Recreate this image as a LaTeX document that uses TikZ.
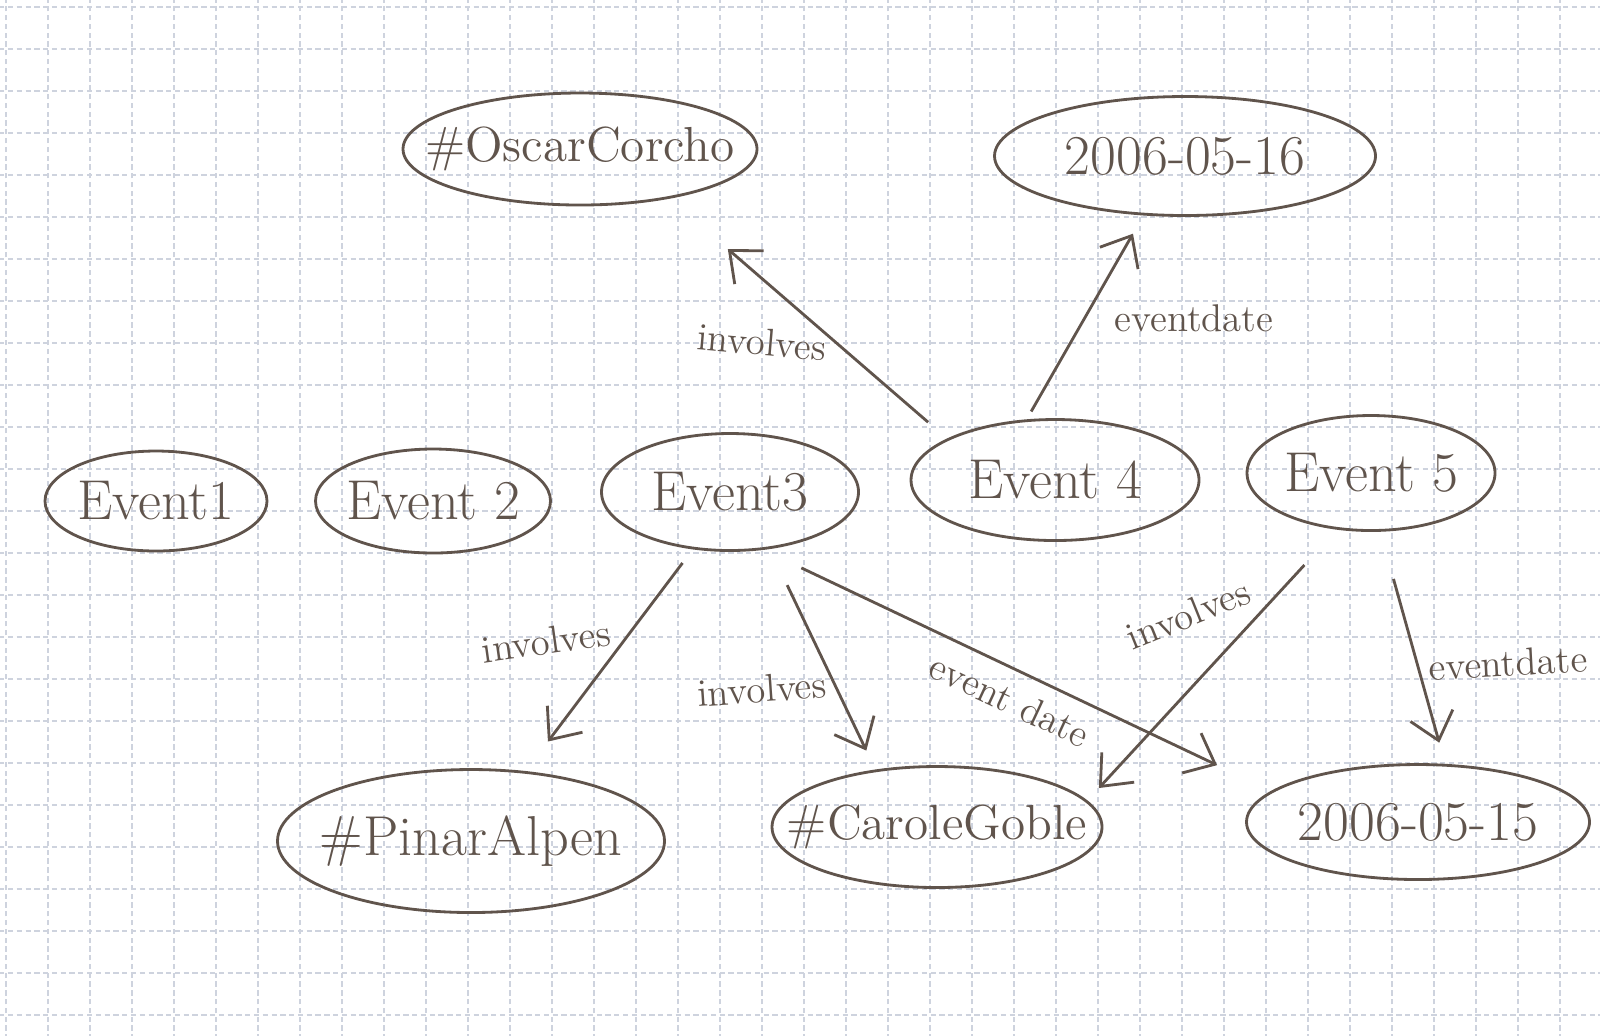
\documentclass[tikz,border=0pt]{standalone}
\usepackage{tikz}
\usetikzlibrary{shapes.geometric,arrows.meta}

\definecolor{pencil}{RGB}{96,84,76}
\definecolor{paperline}{RGB}{206,211,222}
\newcommand{\hw}[1]{\makebox[0pt]{#1}}

\begin{document}
\begin{tikzpicture}[
  evnode/.style={ellipse, draw=pencil, line width=0.8pt, text=pencil, inner sep=0pt,
    font=\fontsize{16}{19}\selectfont},
  namenode/.style={evnode, font=\fontsize{14}{17}\selectfont},
  rel/.style={draw=pencil, line width=0.8pt, -{Straight Barb[length=2.6mm,width=4.4mm]}},
  rellabel/.style={text=pencil, inner sep=1pt, font=\fontsize{11}{13}\selectfont}
]
\useasboundingbox (0,0) rectangle (16,-10.35);
\clip (0,0) rectangle (16,-10.35);
\fill[white] (0,0) rectangle (16,-10.35);

% squared paper
\draw[paperline, line width=0.35pt, dash pattern=on 1.5pt off 1pt, xshift=0.06cm, yshift=-0.07cm]
  (-0.42,-10.5) grid[step=0.42] (16.4,0.42);

% resources
\node[namenode, minimum width=3.54cm, minimum height=1.12cm] (oscar) at (5.80,-1.49) {\hw{\#OscarCorcho}};
\node[evnode, minimum width=3.81cm, minimum height=1.19cm] (date16) at (11.85,-1.56) {\hw{2006-05-16}};

% events
\node[evnode, minimum width=2.22cm, minimum height=1.00cm] (ev1) at (1.56,-5.01) {\hw{Event1}};
\node[evnode, minimum width=2.35cm, minimum height=1.04cm] (ev2) at (4.33,-5.01) {\hw{Event 2}};
\node[evnode, minimum width=2.57cm, minimum height=1.17cm] (ev3) at (7.30,-4.92) {\hw{Event3}};
\node[evnode, minimum width=2.88cm, minimum height=1.21cm] (ev4) at (10.55,-4.80) {\hw{Event 4}};
\node[evnode, minimum width=2.48cm, minimum height=1.15cm] (ev5) at (13.71,-4.73) {\hw{Event 5}};

\node[evnode, minimum width=3.87cm, minimum height=1.43cm] (pinar) at (4.71,-8.41) {\hw{\#PinarAlpen}};
\node[namenode, minimum width=3.30cm, minimum height=1.21cm] (carole) at (9.37,-8.27) {\hw{\#CaroleGoble}};
\node[evnode, minimum width=3.43cm, minimum height=1.15cm] (date15) at (14.18,-8.22) {\hw{2006-05-15}};

% properties
\draw[rel, shorten <=0.25cm, shorten >=0.77cm] (ev4.159) -- (oscar.-29);
\draw[rel, shorten <=0.09cm, shorten >=0.21cm] (ev4.115) -- (date16.235);
\draw[rel, shorten <=0.17cm, shorten >=0.37cm] (ev3.237) -- (pinar.52);
\draw[rel, shorten <=0.40cm, shorten >=0.21cm] (ev3.305) -- (carole.137);
\draw[rel, shorten <=0.42cm, shorten >=0.60cm] (ev3.300) -- (date15.168);
\draw[rel, shorten <=0.48cm, shorten >=0.17cm] (ev5.239) -- (carole.10);
\draw[rel, shorten <=0.49cm, shorten >=0.22cm] (ev5.279) -- (date15.65);

\node[rellabel, rotate=-5] (lblinv4) at (7.62,-3.42) {involves};
\node[rellabel] (lbldate4) at (11.94,-3.18) {eventdate};
\node[rellabel, rotate=8] (lblinv3a) at (5.46,-6.41) {involves};
\node[rellabel, rotate=4] (lblinv3b) at (7.62,-6.89) {involves};
\node[rellabel, rotate=-25] (lbldate3) at (10.10,-7.00) {event date};
\node[rellabel, rotate=22] (lblinv5) at (11.88,-6.14) {involves};
\node[rellabel, rotate=3] (lbldate5) at (15.08,-6.63) {eventdate};
\end{tikzpicture}
\end{document}
